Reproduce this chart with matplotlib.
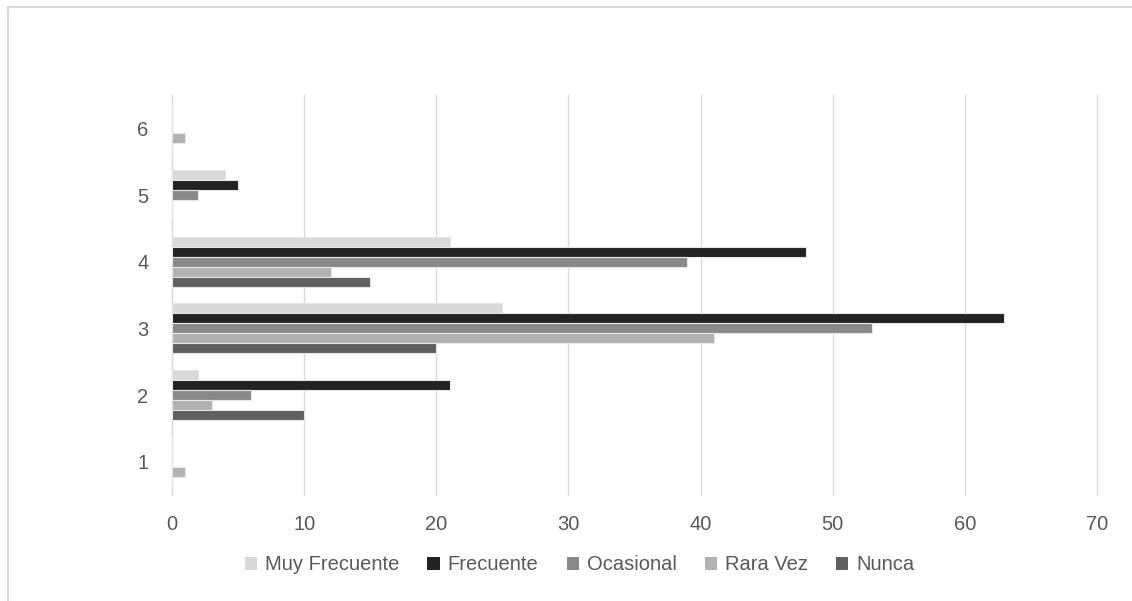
import matplotlib.pyplot as plt
from matplotlib.patches import Patch
from matplotlib.lines import Line2D
import numpy as np

plt.rcParams['font.family'] = ['Liberation Sans', 'DejaVu Sans']

categories = [1, 2, 3, 4, 5, 6]
series_names = ['Muy Frecuente', 'Frecuente', 'Ocasional', 'Rara Vez', 'Nunca']
muy_frecuente = [0, 2, 25, 21, 4, 0]
frecuente = [0, 21, 63, 48, 5, 0]
ocasional = [0, 6, 53, 39, 2, 0]
rara_vez = [1, 3, 41, 12, 0, 1]
nunca = [0, 10, 20, 15, 0, 0]
series_values = [muy_frecuente, frecuente, ocasional, rara_vez, nunca]
colors = ['#d9d9d9', '#222222', '#898989', '#b2b2b2', '#5f5f5f']
x_ticks = [0, 10, 20, 30, 40, 50, 60, 70]

fig = plt.figure(figsize=(11.32, 6.01), dpi=100)
ax = fig.add_axes([0.152, 0.176, 0.817, 0.666])

y = np.array(categories, dtype=float)
h = 0.15
offsets = [0.3, 0.15, 0.0, -0.15, -0.3]  # top to bottom inside each group
for vals, c, off, name in zip(series_values, colors, offsets, series_names):
    ax.barh(y + off, vals, height=h, color=c, edgecolor='#e6e6e6', linewidth=0.8, label=name, zorder=3)

ax.set_xlim(0, 70)
ax.set_ylim(0.5, 6.5)
ax.set_xticks(x_ticks)
ax.set_yticks(categories)
ax.grid(axis='x', color='#d9d9d9', linewidth=1, zorder=0)
for gl in ax.get_xgridlines():
    gl.set_clip_on(False)
for s in ['top', 'right', 'bottom']:
    ax.spines[s].set_visible(False)
ax.spines['left'].set_color('#d9d9d9')
ax.tick_params(length=0, labelsize=14.5, labelcolor='#595959')
ax.tick_params(axis='x', pad=14)
ax.tick_params(axis='y', pad=17)

handles = [Patch(facecolor=c, edgecolor='none') for c in colors]
fig.legend(handles, series_names, loc='center', bbox_to_anchor=(0.512, 0.06), ncol=5,
           frameon=False, fontsize=14.5, labelcolor='#595959', handlelength=0.6,
           handleheight=0.6, handletextpad=0.4, columnspacing=1.4)

# outer chart border (only top and left edges visible in the crop)
fig.add_artist(Line2D([0.007, 1.0], [0.988, 0.988], transform=fig.transFigure, color='#d9d9d9', lw=1.5))
fig.add_artist(Line2D([0.007, 0.007], [0.0, 0.988], transform=fig.transFigure, color='#d9d9d9', lw=1.5))

plt.savefig('out.png', dpi=100)
plt.close()
